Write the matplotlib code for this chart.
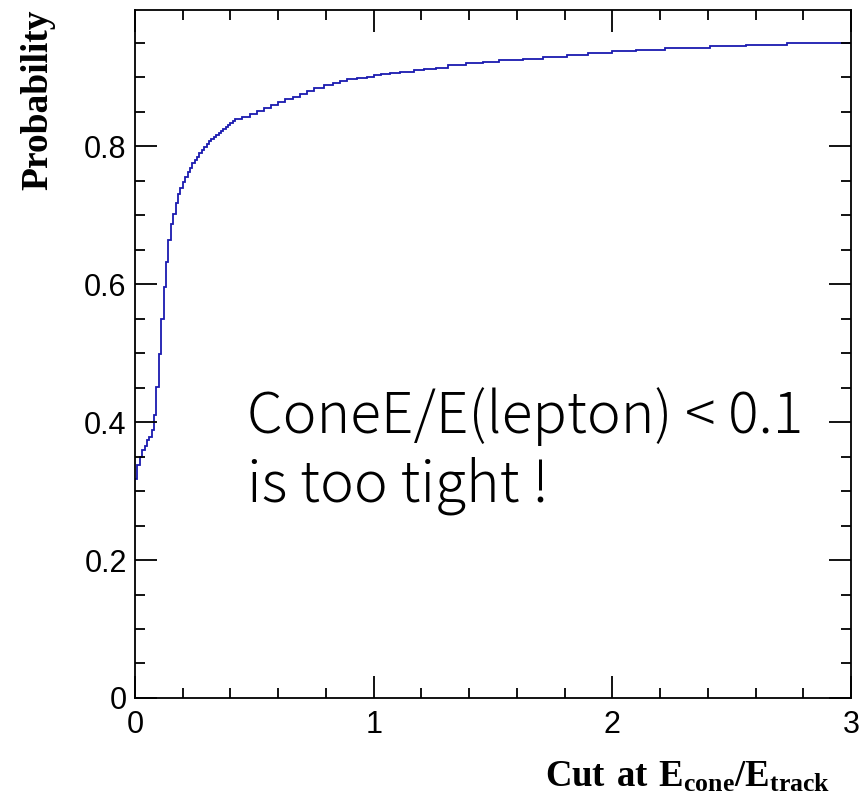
import numpy as np
import matplotlib.pyplot as plt
from matplotlib.ticker import MultipleLocator

plt.rcParams['mathtext.fontset'] = 'custom'
plt.rcParams['mathtext.bf'] = 'Liberation Serif:bold'
plt.rcParams['mathtext.rm'] = 'Liberation Serif:bold'

# Cumulative probability vs cut on E_cone/E_track (step edges and levels)
fine_edges = [0.00, 0.01, 0.02, 0.03, 0.04, 0.05, 0.06, 0.07, 0.08, 0.09,
              0.10, 0.11, 0.12, 0.13, 0.14, 0.15, 0.16, 0.17, 0.18, 0.19,
              0.20, 0.21, 0.22, 0.23, 0.24, 0.25, 0.26, 0.27, 0.28, 0.29,
              0.30, 0.31, 0.32, 0.33, 0.34, 0.35, 0.36, 0.37, 0.38, 0.39,
              0.40, 0.41]
fine_prob = [0.317, 0.338, 0.350, 0.359, 0.366, 0.374, 0.379, 0.388, 0.410, 0.451,
             0.499, 0.550, 0.596, 0.632, 0.664, 0.687, 0.702, 0.717, 0.730, 0.739,
             0.748, 0.756, 0.763, 0.769, 0.775, 0.780, 0.785, 0.790, 0.795, 0.799,
             0.803, 0.807, 0.810, 0.813, 0.816, 0.819, 0.822, 0.825, 0.828, 0.831,
             0.834, 0.836]
coarse_edges = [0.42, 0.45, 0.48, 0.51, 0.54, 0.57, 0.60, 0.63, 0.66, 0.69,
                0.72, 0.75, 0.79, 0.83, 0.86, 0.89, 0.93, 0.97, 1.00, 1.03,
                1.07, 1.11, 1.17, 1.21, 1.26, 1.31, 1.385, 1.46, 1.525, 1.625,
                1.71, 1.81, 1.90, 2.00, 2.10, 2.22, 2.41, 2.56, 2.73]
coarse_prob = [0.839, 0.843, 0.847, 0.851, 0.855, 0.859, 0.864, 0.868, 0.872, 0.876,
               0.880, 0.884, 0.888, 0.891, 0.895, 0.898, 0.899, 0.901, 0.903, 0.904,
               0.906, 0.908, 0.910, 0.912, 0.914, 0.917, 0.920, 0.922, 0.925, 0.927,
               0.930, 0.932, 0.935, 0.938, 0.940, 0.943, 0.945, 0.947, 0.950]
x_max = 3.0

edges = np.array(fine_edges + coarse_edges + [x_max])
prob = np.array(fine_prob + coarse_prob)

fig = plt.figure(figsize=(8.61, 8.02), dpi=100)
ax = fig.add_axes([0.1568, 0.1297, 0.8316, 0.8579])

ax.stairs(prob, edges, color='#1a1ab0', linewidth=1.3, baseline=None)

ax.set_xlim(0, 3)
ax.set_ylim(0, 1.05 * prob.max())

#------------------ ROOT-like axes
for s in ax.spines.values():
    s.set_linewidth(1.3)
ax.set_xticks([0, 1, 2, 3])
ax.set_xticklabels(['0', '1', '2', '3'], family='Liberation Sans')
ax.set_yticks([0, 0.2, 0.4, 0.6, 0.8])
ax.set_yticklabels(['0', '0.2', '0.4', '0.6', '0.8'], family='Liberation Sans')
ax.xaxis.set_minor_locator(MultipleLocator(0.2))
ax.yaxis.set_minor_locator(MultipleLocator(0.05))
ax.tick_params(which='both', direction='in', top=True, right=True, width=1.3)
ax.tick_params(which='major', length=16, labelsize=22, pad=9)
ax.tick_params(which='minor', length=7.5)
ax.tick_params(axis='y', pad=6)

#------------------ axis titles
fig.text(38 / 861, 1 - 10 / 802, 'Probability', family='Liberation Serif',
         fontweight='bold', fontsize=27, rotation=90, ha='center', va='top')
fig.text(830 / 861, 1 - 787 / 802, r'$\mathbf{Cut\ at\ E_{cone}/E_{track}}$',
         fontsize=26.5, ha='right', va='baseline')

ax.text(0.47, 0.358, 'ConeE/E(lepton) < 0.1\nis too tight !',
        family=['Noto Sans CJK JP', 'DejaVu Sans'], fontweight='light',
        fontsize=41, linespacing=1.2, va='center', ha='left')

fig.savefig('out.png', dpi=100)
